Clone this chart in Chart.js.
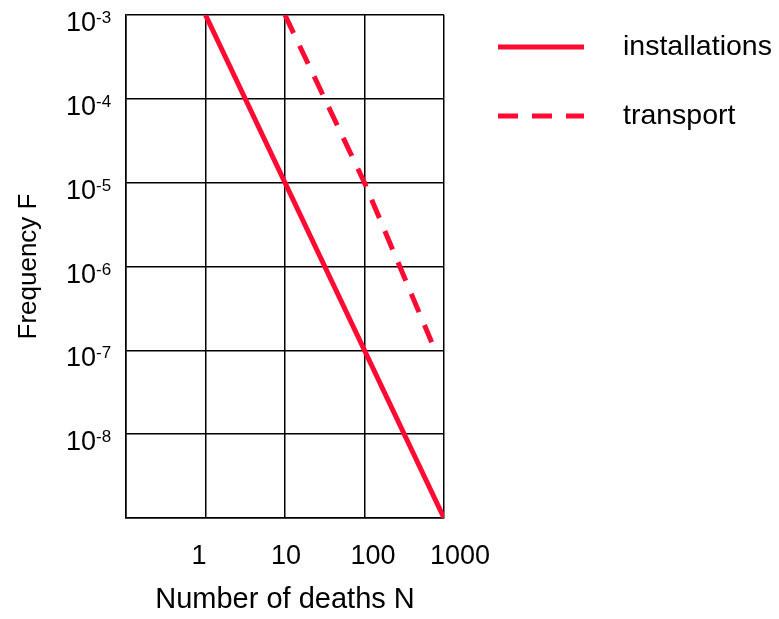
<!DOCTYPE html>
<html>
<head>
<meta charset="utf-8">
<script src="https://cdn.jsdelivr.net/npm/chart.js@4.4.1/dist/chart.umd.min.js"></script>
<style>
  html, body { margin: 0; padding: 0; background: #ffffff; }
  #wrap { width: 779px; height: 619px; position: relative; }
</style>
</head>
<body>
<div id="wrap"><canvas id="fn"></canvas></div>
<script>
// Datos del diagrama F-N (escala logaritmica en ambos ejes)
var seriesNames = ["installations", "transport"];
var installationsN = [1, 1000];
var installationsF = [1e-3, 1e-9];
var transportN = [10, 100, 700];
var transportF = [1e-3, 1e-5, 1.25e-7];

// Marcas de los ejes
var xTicks = [0.1, 1, 10, 100, 1000];
var xTickLabels = ["", "1", "10", "100", "1000"];
var yTicks = [1e-9, 1e-8, 1e-7, 1e-6, 1e-5, 1e-4, 1e-3];
var yTickLabels = ["", "-8", "-7", "-6", "-5", "-4", "-3"];

var rojo = "#ff0a33";
var fuente = "'Liberation Sans', Arial, sans-serif";

function puntos(xs, ys) {
    return xs.map(function (x, i) { return { x: x, y: ys[i] }; });
}

// Etiquetas de los ejes (10 con exponente) y leyenda a la derecha
var etiquetas = {
    id: "etiquetas",
    afterDraw: function (chart) {
        var ctx = chart.ctx;
        var sx = chart.scales.x;
        var sy = chart.scales.y;
        ctx.save();
        ctx.fillStyle = "#000";
        ctx.textBaseline = "alphabetic";
        ctx.textAlign = "left";

        // eje x
        ctx.font = "27px " + fuente;
        xTicks.forEach(function (v, i) {
            if (!xTickLabels[i]) return;
            ctx.fillText(xTickLabels[i], sx.getPixelForValue(v) - 14, 564);
        });

        // eje y
        yTicks.forEach(function (v, i) {
            if (!yTickLabels[i]) return;
            var py = sy.getPixelForValue(v) + 16;
            ctx.font = "27px " + fuente;
            ctx.fillText("10", 66, py);
            var w = ctx.measureText("10").width;
            ctx.font = "17px " + fuente;
            ctx.fillText(yTickLabels[i], 66 + w, py - 8);
        });

        // leyenda
        chart.data.datasets.forEach(function (ds, i) {
            var ly = 47 + i * 69;
            ctx.strokeStyle = ds.borderColor;
            ctx.lineWidth = ds.borderWidth;
            ctx.setLineDash(ds.borderDash || []);
            ctx.beginPath();
            ctx.moveTo(498, ly);
            ctx.lineTo(584, ly);
            ctx.stroke();
            ctx.setLineDash([]);
            ctx.font = "28.5px " + fuente;
            ctx.textBaseline = "middle";
            ctx.fillText(ds.label, 623, ly);
            ctx.textBaseline = "alphabetic";
        });
        ctx.restore();
    }
};

function cargaGrafico() {
    var datos = {
        datasets: [{
            label: seriesNames[0],
            data: puntos(installationsN, installationsF),
            borderColor: rojo,
            borderWidth: 5,
            pointRadius: 0,
            fill: false
        }, {
            label: seriesNames[1],
            data: puntos(transportN, transportF),
            borderColor: rojo,
            borderWidth: 5,
            borderDash: [20, 14],
            pointRadius: 0,
            fill: false
        }]
    };

    var config = {
        type: "line",
        data: datos,
        plugins: [etiquetas],
        options: {
            responsive: true,
            maintainAspectRatio: false,
            animation: false,
            layout: {
                padding: { top: 15, right: 335, left: 0, bottom: 0 }
            },
            plugins: {
                legend: { display: false },
                tooltip: { enabled: false }
            },
            scales: {
                x: {
                    type: "logarithmic",
                    min: 0.1,
                    max: 1000,
                    afterBuildTicks: function (s) {
                        s.ticks = xTicks.map(function (v) { return { value: v }; });
                    },
                    afterFit: function (s) { s.height = 101; },
                    ticks: { display: false },
                    grid: { color: "#000", lineWidth: 1.5, drawTicks: false },
                    border: { color: "#000", width: 1.5 },
                    title: {
                        display: true,
                        text: "Number of deaths N",
                        color: "#000",
                        font: { family: fuente, size: 29 },
                        padding: { top: 0, bottom: 2 }
                    }
                },
                y: {
                    type: "logarithmic",
                    min: 1e-9,
                    max: 1e-3,
                    afterBuildTicks: function (s) {
                        s.ticks = yTicks.map(function (v) { return { value: v }; });
                    },
                    afterFit: function (s) { s.width = 126; },
                    ticks: { display: false },
                    grid: { color: "#000", lineWidth: 1.5, drawTicks: false },
                    border: { color: "#000", width: 1.5 },
                    title: {
                        display: true,
                        text: "Frequency F",
                        color: "#000",
                        font: { family: fuente, size: 26 },
                        padding: { top: 13, bottom: 0 }
                    }
                }
            }
        }
    };

    var grafico = document.getElementById("fn").getContext("2d");
    new Chart(grafico, config);
}

window.addEventListener("load", cargaGrafico);
</script>
</body>
</html>
